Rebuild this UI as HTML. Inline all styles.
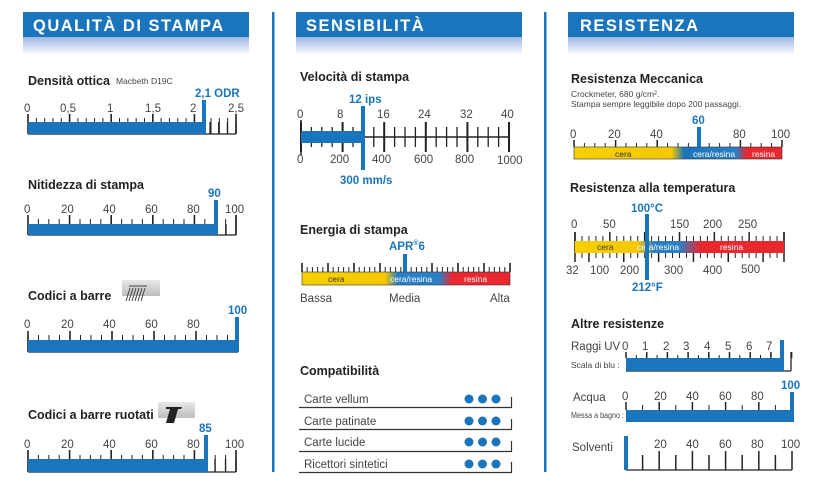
<!DOCTYPE html>
<html><head><meta charset="utf-8">
<style>
html,body{margin:0;padding:0;background:#fff;}
svg{display:block;font-family:"Liberation Sans",sans-serif;}
.t{font-weight:bold;font-size:12.5px;fill:#222;}
.l{font-size:11.5px;fill:#444;}
.v{font-weight:bold;font-size:11.5px;fill:#1b75bc;}
.s{font-size:8.5px;fill:#444;}
.h{font-weight:bold;font-size:16.5px;fill:#fff;letter-spacing:1.5px;}
.c{font-size:8.5px;fill:#333;}
.cw{font-size:8.5px;fill:#fff;}
</style></head><body>
<svg id="g" width="822" height="497" viewBox="0 0 822 497" xmlns="http://www.w3.org/2000/svg">
<defs>
<linearGradient id="sh" x1="0" y1="0" x2="0" y2="1"><stop offset="0" stop-color="#9fb6e0"/><stop offset="1" stop-color="#fff"/></linearGradient>
<linearGradient id="mix" x1="0" y1="0" x2="1" y2="0">
<stop offset="0" stop-color="#f7d000"/><stop offset="0.4" stop-color="#f5c800"/><stop offset="0.46" stop-color="#2b7fc4"/><stop offset="0.66" stop-color="#2b7fc4"/><stop offset="0.72" stop-color="#e8272f"/><stop offset="1" stop-color="#e8272f"/></linearGradient>
<linearGradient id="mec" x1="0" y1="0" x2="1" y2="0">
<stop offset="0" stop-color="#f7d000"/><stop offset="0.47" stop-color="#f5c800"/><stop offset="0.53" stop-color="#1b75bc"/><stop offset="0.78" stop-color="#2b7fc4"/><stop offset="0.83" stop-color="#e8272f"/><stop offset="1" stop-color="#e8272f"/></linearGradient>
<linearGradient id="tmp" x1="0" y1="0" x2="1" y2="0">
<stop offset="0" stop-color="#f7d000"/><stop offset="0.3" stop-color="#f5c800"/><stop offset="0.38" stop-color="#2b7fc4"/><stop offset="0.5" stop-color="#2b7fc4"/><stop offset="0.6" stop-color="#e8272f"/><stop offset="1" stop-color="#e8272f"/></linearGradient>
<linearGradient id="ic" x1="0" y1="0" x2="0" y2="1"><stop offset="0" stop-color="#e8e8e8"/><stop offset="1" stop-color="#bdbdbd"/></linearGradient>
</defs>
<!-- headers -->
<rect x="23" y="12" width="226" height="25" fill="#1b75bc"/><rect x="23" y="37" width="226" height="18" fill="url(#sh)"/>
<text class="h" x="33" y="31">QUALITÀ DI STAMPA</text>
<rect x="296" y="12" width="226" height="25" fill="#1b75bc"/><rect x="296" y="37" width="226" height="18" fill="url(#sh)"/>
<text class="h" x="306" y="31">SENSIBILITÀ</text>
<rect x="568" y="12" width="226" height="25" fill="#1b75bc"/><rect x="568" y="37" width="226" height="18" fill="url(#sh)"/>
<text class="h" x="580" y="31">RESISTENZA</text>
<rect x="272" y="12" width="2.5" height="460" fill="#1b75bc"/>
<rect x="544" y="12" width="2.5" height="460" fill="#1b75bc"/>

<!-- col1 -->
<text class="t" x="28" y="85">Densità ottica</text><text class="s" x="116" y="84">Macbeth D19C</text>
<text class="v" x="195" y="97">2,1 ODR</text>
<g class="l"><text x="24" y="112">0</text><text x="60" y="112">0,5</text><text x="107" y="112">1</text><text x="145" y="112">1,5</text><text x="190" y="112">2</text><text x="228" y="112">2,5</text></g>
<g id="a1"></g>
<rect x="28" y="122" width="177" height="12" fill="#1b75bc"/><rect x="202" y="100" width="4" height="34" fill="#1b75bc"/>

<text class="t" x="28" y="189">Nitidezza di stampa</text>
<text class="v" x="208" y="197">90</text>
<g class="l"><text x="24" y="213">0</text><text x="61" y="213">20</text><text x="103" y="213">40</text><text x="145" y="213">60</text><text x="187" y="213">80</text><text x="225" y="213">100</text></g>
<g id="a2"></g>
<rect x="28" y="224" width="188" height="11" fill="#1b75bc"/><rect x="214" y="200" width="4" height="35" fill="#1b75bc"/>

<text class="t" x="28" y="300">Codici a barre</text>
<rect x="122" y="280" width="38" height="16" fill="url(#ic)" rx="1"/><path d="M129 286 h18 M130 288 l-4 13 M133 288 l-4 13 M136 288 l-4 13 M139 288 l-4 13 M142 288 l-4 13 M145 288 l-4 13" stroke="#444" stroke-width="1"/>
<text class="v" x="228" y="314">100</text>
<g class="l"><text x="24" y="328">0</text><text x="61" y="328">20</text><text x="103" y="328">40</text><text x="145" y="328">60</text><text x="187" y="328">80</text></g>
<g id="a3"></g>
<rect x="28" y="340" width="210" height="12" fill="#1b75bc"/><rect x="235" y="317" width="4" height="35" fill="#1b75bc"/>

<text class="t" x="28" y="419">Codici a barre ruotati</text>
<rect x="158" y="402" width="37" height="16" fill="url(#ic)" rx="1"/><path d="M166 407 h16 l-1 2 h-3 l-4 14 h-8 l4 -14 h-4z" fill="#222"/>
<text class="v" x="199" y="432">85</text>
<g class="l"><text x="24" y="448">0</text><text x="61" y="448">20</text><text x="103" y="448">40</text><text x="145" y="448">60</text><text x="187" y="448">80</text><text x="225" y="448">100</text></g>
<g id="a4"></g>
<rect x="28" y="459" width="178" height="13" fill="#1b75bc"/><rect x="204" y="435" width="4" height="37" fill="#1b75bc"/>

<!-- col2 -->
<text class="t" x="300" y="81">Velocità di stampa</text>
<text class="v" x="349" y="103">12 ips</text>
<g class="l"><text x="297" y="118">0</text><text x="337" y="118">8</text><text x="377" y="118">16</text><text x="418" y="118">24</text><text x="460" y="118">32</text><text x="501" y="118">40</text>
<text x="297" y="163">0</text><text x="330" y="163">200</text><text x="372" y="163">400</text><text x="414" y="163">600</text><text x="455" y="163">800</text><text x="497" y="164">1000</text></g>
<g id="b1"></g>
<rect x="301" y="131" width="62" height="12" fill="#1b75bc"/><rect x="361" y="106" width="4" height="64" fill="#1b75bc"/>
<text class="v" x="340" y="184">300 mm/s</text>

<text class="t" x="300" y="234">Energia di stampa</text>
<text class="v" x="389" y="250">APR<tspan font-size="7" dy="-5">®</tspan><tspan dy="5">6</tspan></text>
<g id="b2"></g>
<rect x="302" y="272" width="208" height="13" fill="url(#mix)" stroke="#333" stroke-width="0.6"/>
<text class="c" x="328" y="282">cera</text><text class="cw" x="390" y="282">cera/resina</text><text class="cw" x="464" y="282">resina</text>
<rect x="403" y="254" width="4" height="18" fill="#1b75bc"/>
<g class="l"><text x="300" y="302">Bassa</text><text x="389" y="302">Media</text><text x="490" y="302">Alta</text></g>

<text class="t" x="300" y="375">Compatibilità</text>
<g class="l">
<text x="304" y="403">Carte vellum</text><text x="304" y="425">Carte patinate</text><text x="304" y="446">Carte lucide</text><text x="304" y="468">Ricettori sintetici</text></g>
<g stroke="#333" stroke-width="1.2" fill="none"><path d="M299 407.5 H511.5 V397"/><path d="M299 429.5 H511.5 V419"/><path d="M299 451.5 H511.5 V441"/><path d="M299 472.5 H511.5 V462"/></g>
<g fill="#1b75bc"><circle cx="469" cy="399" r="4.5"/><circle cx="482.5" cy="399" r="4.5"/><circle cx="496" cy="399" r="4.5"/>
<circle cx="469" cy="421" r="4.5"/><circle cx="482.5" cy="421" r="4.5"/><circle cx="496" cy="421" r="4.5"/>
<circle cx="469" cy="442" r="4.5"/><circle cx="482.5" cy="442" r="4.5"/><circle cx="496" cy="442" r="4.5"/>
<circle cx="469" cy="464" r="4.5"/><circle cx="482.5" cy="464" r="4.5"/><circle cx="496" cy="464" r="4.5"/></g>

<!-- col3 -->
<text class="t" x="571" y="83">Resistenza Meccanica</text>
<text class="s" x="571" y="97">Crockmeter, 680 g/cm².</text><text class="s" x="571" y="107">Stampa sempre leggibile dopo 200 passaggi.</text>
<text class="v" x="692" y="124">60</text>
<g class="l"><text x="570" y="138">0</text><text x="608" y="138">20</text><text x="650" y="138">40</text><text x="733" y="138">80</text><text x="771" y="138">100</text></g>
<g id="c1"></g>
<rect x="574" y="147" width="208" height="12" fill="url(#mec)" stroke="#333" stroke-width="0.6"/>
<text class="c" x="615" y="157">cera</text><text class="cw" x="693" y="157">cera/resina</text><text class="cw" x="752" y="157">resina</text>
<rect x="697" y="127" width="4" height="20" fill="#1b75bc"/>

<text class="t" x="570" y="192">Resistenza alla temperatura</text>
<text class="v" x="631" y="212">100°C</text>
<g class="l"><text x="571" y="228">0</text><text x="603" y="228">50</text><text x="670" y="228">150</text><text x="703" y="228">200</text><text x="738" y="228">250</text>
<text x="566" y="274">32</text><text x="590" y="274">100</text><text x="620" y="274">200</text><text x="664" y="274">300</text><text x="703" y="274">400</text><text x="741" y="273">500</text></g>
<g id="c2"></g>
<rect x="575" y="241" width="209" height="12" fill="url(#tmp)"/>
<text class="c" x="597" y="250">cera</text><text class="cw" x="637" y="250">cera/resina</text><text class="cw" x="720" y="250">resina</text>
<rect x="645" y="214" width="4" height="66" fill="#1b75bc"/>
<text class="v" x="632" y="291">212°F</text>

<text class="t" x="571" y="328">Altre resistenze</text>
<text class="l" x="571" y="350">Raggi UV</text><text class="s" x="571" y="368" font-size="7.5">Scala di blu :</text>
<g class="l"><text x="622" y="350">0</text><text x="642" y="350">1</text><text x="663" y="350">2</text><text x="683" y="350">3</text><text x="704" y="350">4</text><text x="725" y="350">5</text><text x="746" y="350">6</text><text x="766" y="350">7</text></g>
<g id="c3"></g>
<rect x="626" y="358" width="157" height="13" fill="#1b75bc"/><rect x="780" y="340" width="4" height="31" fill="#1b75bc"/>

<text class="l" x="573" y="401">Acqua</text><text class="s" x="571" y="418" font-size="7" textLength="53" lengthAdjust="spacingAndGlyphs">Messa a bagno :</text>
<text class="v" x="781" y="389">100</text>
<g class="l"><text x="622" y="400">0</text><text x="654" y="400">20</text><text x="686" y="400">40</text><text x="719" y="400">60</text><text x="751" y="400">80</text></g>
<g id="c4"></g>
<rect x="626" y="410" width="166" height="12" fill="#1b75bc"/><rect x="790" y="392" width="4" height="30" fill="#1b75bc"/>

<text class="l" x="572" y="451">Solventi</text>
<g class="l"><text x="654" y="448">20</text><text x="686" y="448">40</text><text x="719" y="448">60</text><text x="751" y="448">80</text><text x="781" y="448">100</text></g>
<g id="c5"></g>
<rect x="624" y="436" width="4" height="34" fill="#1b75bc"/>
</svg>
<script>
function L(id,x1,y1,x2,y2,w){var g=document.getElementById(id);var e=document.createElementNS("http://www.w3.org/2000/svg","line");e.setAttribute("x1",x1);e.setAttribute("y1",y1);e.setAttribute("x2",x2);e.setAttribute("y2",y2);e.setAttribute("stroke","#222");e.setAttribute("stroke-width",w||1);g.appendChild(e);}
function R(id,x0,x1,n,m,yTop,yMajor,yMinor,yBot){for(var i=0;i<=n;i++){var x=x0+(x1-x0)*i/n;var maj=i%m==0;L(id,x,maj?yMajor:yMinor,x,yBot,maj?1.6:1);}L(id,x0,yBot,x1,yBot,1.2);}
R("a1",28,236,25,5,0,114,118,134);
for(var i=0;i<4;i++)L("a1",210+i*8.7,122,210+i*8.7,134,1.3);
R("a2",28,236,20,4,0,215,219,235);L("a2",226,224,226,235,1.3);L("a2",236,215,236,235,1.3);
R("a3",28,238,20,4,0,331,335,352);
R("a4",28,236,20,4,0,450,455,472);for(var i=0;i<3;i++)L("a4",215+i*10.5,459,215+i*10.5,472,1.3);
L("b1",301,137,509,137,1.5);
for(var i=0;i<=20;i++){var x=301+208*i/20;var maj=i%4==0;L("b1",x,maj?122:127,x,maj?152:147,maj?2:1.3);}
L("b1",301,120,301,155,1.5);
for(var i=0;i<=40;i++){var x=302+208*i/40;L("b2",x,i%5==0?263:267,x,272,i%5==0?1.6:1);}
for(var i=0;i<=20;i++){var x=574+208*i/20;L("c1",x,i%4==0?140:143,x,147,i%4==0?1.5:1);}
for(var i=0;i<=30;i++){var x=575+209*i/30;L("c2",x,i%5==0?232:236,x,241,i%5==0?1.5:1);}
for(var i=0;i<=30;i++){var x=575+209*i/30;L("c2",x,253,x,i%5==2?262:258,i%5==2?1.5:1);}
L("c2",575,232,575,262,1.5);L("c2",784,232,784,262,1.5);
for(var i=0;i<=16;i++){var x=626+20.7*i/2;L("c3",x,i%2==0?352:355,x,358,i%2==0?1.5:1);}L("c3",791,352,791,371,1.3);L("c3",626,371,791,371,1.2);
for(var i=0;i<=10;i++){var x=626+166*i/10;L("c4",x,i%2==0?402:405,x,410,i%2==0?1.5:1);}
for(var i=1;i<=10;i++){var x=626+166*i/10;L("c5",x,i%2==0?451:455,x,470,1.5);}L("c5",626,470,792,470,1.2);
</script>
</body></html>
